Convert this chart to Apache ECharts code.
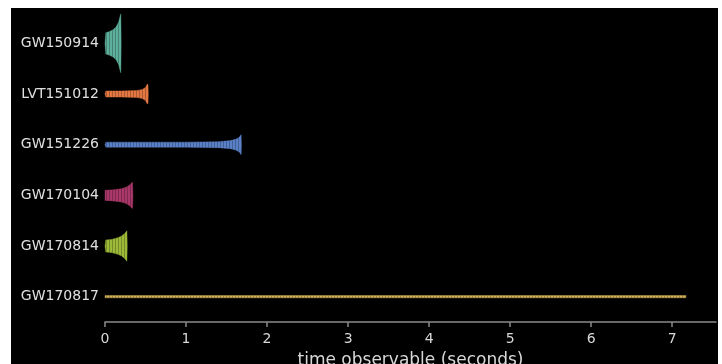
<!DOCTYPE html>
<html><head><meta charset="utf-8">
<script src="https://cdn.jsdelivr.net/npm/echarts@6/dist/echarts.min.js"></script>
<style>
html,body{margin:0;padding:0;background:#fff;width:722px;height:364px;overflow:hidden;}
#c{position:absolute;left:11px;top:8px;width:707px;height:380px;background:#000;}
</style></head><body><div id="c"></div>
<script>
// Events (rows, top to bottom)
const events = ['GW150914','LVT151012','GW151226','GW170104','GW170814','GW170817'];
const colors = ['#62b9a3','#f07e45','#5f87d2','#b23a6e','#a4c33a','#dcbb5c'];
// Waveform envelopes: time (s) and half-amplitude (fraction of row spacing)
const gw150914_t = [0.01, 0.05, 0.10, 0.14, 0.17, 0.19, 0.195, 0.20];
const gw150914_a = [0.21, 0.23, 0.27, 0.33, 0.43, 0.56, 0.58, 0.0];
const lvt151012_t = [0.01, 0.20, 0.40, 0.46, 0.50, 0.52, 0.53, 0.535];
const lvt151012_a = [0.06, 0.06, 0.07, 0.09, 0.13, 0.19, 0.19, 0.0];
const gw151226_t = [0.01, 0.50, 1.00, 1.40, 1.55, 1.62, 1.66, 1.68, 1.685];
const gw151226_a = [0.05, 0.05, 0.05, 0.06, 0.08, 0.11, 0.15, 0.20, 0.0];
const gw170104_t = [0.0, 0.10, 0.20, 0.26, 0.30, 0.33, 0.34, 0.345];
const gw170104_a = [0.10, 0.11, 0.13, 0.16, 0.20, 0.25, 0.26, 0.0];
const gw170814_t = [0.01, 0.08, 0.15, 0.20, 0.24, 0.265, 0.27, 0.275];
const gw170814_a = [0.12, 0.13, 0.16, 0.19, 0.24, 0.29, 0.30, 0.0];
const gw170817_t = [0.0, 3.5, 7.17];
const gw170817_a = [0.022, 0.022, 0.022];
const times = [gw150914_t, lvt151012_t, gw151226_t, gw170104_t, gw170814_t, gw170817_t];
const amps = [gw150914_a, lvt151012_a, gw151226_a, gw170104_a, gw170814_a, gw170817_a];
const xTicks = [0,1,2,3,4,5,6,7];

function stripes(col) {
  const cv = document.createElement('canvas');
  cv.width = 3; cv.height = 1;
  const g = cv.getContext('2d');
  g.fillStyle = col; g.fillRect(0, 0, 3, 1);
  g.globalAlpha = 0.25; g.fillStyle = '#000'; g.fillRect(2, 0, 1, 1);
  return cv;
}

const chart = echarts.init(document.getElementById('c'), null, {renderer:'canvas'});
const series = events.map((name, i) => ({
  type: 'custom',
  name: name,
  coordinateSystem: 'cartesian2d',
  data: times[i].map((t, k) => [t, i, amps[i][k]]),
  renderItem: function (params, api) {
    if (params.dataIndex !== 0) return;
    const band = api.size([0, 1])[1];
    const upper = [], lower = [];
    const t0 = api.coord([0, i]);
    upper.push([t0[0], t0[1]]);
    for (let k = 0; k < times[i].length; k++) {
      const p = api.coord([times[i][k], i]);
      const h = amps[i][k] * band;
      upper.push([p[0], p[1] - h]);
      lower.unshift([p[0], p[1] + h]);
    }
    const pts = upper.concat(lower);
    return { type: 'polygon', shape: { points: pts },
      style: { fill: { image: stripes(colors[i]), repeat: 'repeat' }, stroke: colors[i], lineWidth: 0.4, opacity: 0.95 } };
  }
}));

chart.setOption({
  backgroundColor: '#000',
  animation: false,
  grid: { left: 94, width: 611, top: 10, height: 304 },
  xAxis: {
    type: 'value', min: 0, max: 7.54, interval: 1,
    axisLine: { show: true, lineStyle: { color: '#8a8a8a', width: 1.5 } },
    axisTick: { show: true, length: 5, lineStyle: { color: '#8a8a8a', width: 1.5 } },
    axisLabel: { color: '#d8d8d8', fontSize: 14, fontFamily: 'DejaVu Sans', margin: 10,
      formatter: v => xTicks.includes(v) ? String(v) : '' , showMaxLabel: false},
    splitLine: { show: false },
    name: 'time observable (seconds)', nameLocation: 'middle', nameGap: 30,
    nameTextStyle: { color: '#d8d8d8', fontSize: 17, fontFamily: 'DejaVu Sans' }
  },
  yAxis: {
    type: 'category', data: events, inverse: true, boundaryGap: true,
    axisLine: { show: false }, axisTick: { show: false }, splitLine: { show: false },
    axisLabel: { color: '#e0e0e0', fontSize: 14, fontFamily: 'DejaVu Sans', margin: 6 }
  },
  series: series
});
</script></body></html>
